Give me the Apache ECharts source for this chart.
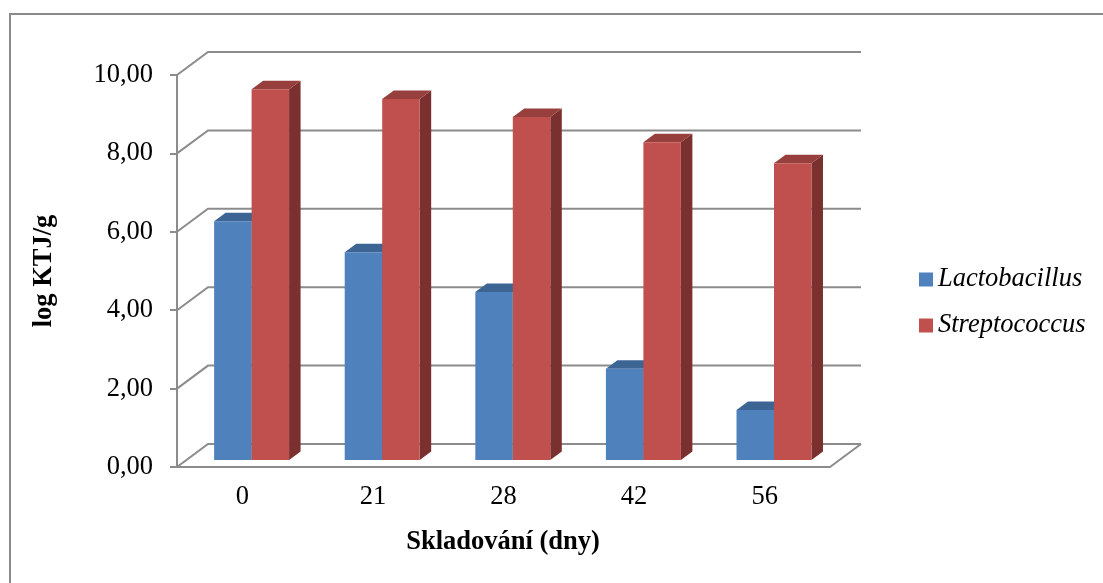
<!DOCTYPE html>
<html>
<head>
<meta charset="utf-8">
<script src="https://cdn.jsdelivr.net/npm/echarts@6/dist/echarts.min.js"></script>
<style>
  html, body { margin: 0; padding: 0; background: #ffffff; }
  #chart { width: 1103px; height: 583px; }
</style>
</head>
<body>
<div id="chart"></div>
<script>
// Storage time (days) and log CFU/g counts
const days = ['0', '21', '28', '42', '56'];
const lactobacillus = [6.09, 5.30, 4.29, 2.33, 1.28];
const streptococcus = [9.46, 9.21, 8.75, 8.11, 7.57];
const valueTicks = [0, 2, 4, 6, 8, 10];

// Oblique 3D projection settings (pixels)
const DEPTH = [31, -23];        // floor/wall depth offset
const FACE = 0.3;               // bar fronts sit this far into the depth
const BAR_DEPTH = [11.5, -8.5]; // thickness of each column
const BAR_FRAC = 0.287;         // column width as a share of the category band

const FONT = 'Liberation Serif';
const FONT_SIZE = 26.5;
const GRID_COLOR = '#8c8c8c';

const palette = {
  lacto: { front: '#4f81bd', top: '#3c6594', side: '#2f5078' },
  strep: { front: '#c0504d', top: '#973f3d', side: '#7a302e' }
};

const fmt = v => v.toFixed(2).replace('.', ',');

// Back wall gridlines plus their diagonal on the side wall
function gridRenderer(params, api) {
  const v = api.value(1);
  const bw = api.size([1, 0])[0];
  const first = api.coord([0, v]);
  const last = api.coord([days.length - 1, v]);
  const xl = first[0] - bw / 2;
  const xr = last[0] + bw / 2;
  const y = first[1];
  const children = [{
    type: 'polyline',
    shape: { points: [[xl, y], [xl + DEPTH[0], y + DEPTH[1]], [xr + DEPTH[0], y + DEPTH[1]]] },
    style: { stroke: GRID_COLOR, lineWidth: 2, fill: null }
  }];
  if (v === 0) {
    children.push({
      type: 'line',
      shape: { x1: xr, y1: y, x2: xr + DEPTH[0], y2: y + DEPTH[1] },
      style: { stroke: GRID_COLOR, lineWidth: 2 }
    });
  }
  return { type: 'group', children };
}

// 3D column: front face, top and right side
function barRenderer(side, colors) {
  return function (params, api) {
    const i = api.value(0);
    const v = api.value(1);
    const base = api.coord([i, 0]);
    const top = api.coord([i, v]);
    const bw = api.size([1, 0])[0];
    const w = bw * BAR_FRAC;
    const ox = DEPTH[0] * FACE, oy = DEPTH[1] * FACE;
    const x0 = base[0] + ox + (side === 0 ? -w : 0);
    const x1 = x0 + w;
    const yb = base[1] + oy;
    const yt = top[1] + oy;
    const bx = BAR_DEPTH[0], by = BAR_DEPTH[1];
    return {
      type: 'group',
      children: [
        { type: 'polygon', shape: { points: [[x1, yt], [x1, yb], [x1 + bx, yb + by], [x1 + bx, yt + by]] }, style: { fill: colors.side } },
        { type: 'polygon', shape: { points: [[x0, yt], [x1, yt], [x1 + bx, yt + by], [x0 + bx, yt + by]] }, style: { fill: colors.top } },
        { type: 'rect', shape: { x: x0, y: yt, width: w, height: yb - yt }, style: { fill: colors.front } }
      ]
    };
  };
}

const chart = echarts.init(document.getElementById('chart'), null, { renderer: 'canvas' });

chart.setOption({
  animation: false,
  backgroundColor: '#ffffff',
  textStyle: { fontFamily: FONT },
  grid: { left: 177, top: 75, width: 653, height: 392, containLabel: false },
  legend: {
    orient: 'vertical',
    left: 919,
    top: 266,
    padding: 0,
    itemWidth: 14,
    itemHeight: 14,
    itemGap: 19,
    icon: 'rect',
    textStyle: { fontFamily: FONT, fontSize: FONT_SIZE, fontStyle: 'italic', color: '#000000' },
    data: ['Lactobacillus', 'Streptococcus']
  },
  xAxis: {
    type: 'category',
    data: days,
    axisLine: { show: true, lineStyle: { color: GRID_COLOR, width: 2 } },
    axisTick: { show: false },
    axisLabel: { fontFamily: FONT, fontSize: FONT_SIZE, color: '#000000', margin: 17 },
    splitLine: { show: false }
  },
  yAxis: {
    type: 'value',
    min: valueTicks[0],
    max: valueTicks[valueTicks.length - 1],
    interval: valueTicks[1] - valueTicks[0],
    axisLine: { show: true, lineStyle: { color: GRID_COLOR, width: 2 } },
    axisTick: { show: true, length: 7, lineStyle: { color: GRID_COLOR, width: 2 } },
    axisLabel: { fontFamily: FONT, fontSize: FONT_SIZE, color: '#000000', margin: 24, formatter: fmt },
    splitLine: { show: false }
  },
  graphic: [
    {
      type: 'rect', silent: true, z: -1,
      shape: { x: 10, y: 14, width: 1200, height: 700 },
      style: { fill: null, stroke: '#8a8a8a', lineWidth: 2 }
    },
    {
      type: 'text', x: 44, y: 271, rotation: Math.PI / 2,
      style: { text: 'log KTJ/g', font: 'bold 26.5px "Liberation Serif"', fill: '#000000', align: 'center', verticalAlign: 'middle' }
    },
    {
      type: 'text', x: 503, y: 542,
      style: { text: 'Skladování (dny)', font: 'bold 26.5px "Liberation Serif"', fill: '#000000', align: 'center', verticalAlign: 'middle' }
    }
  ],
  series: [
    {
      type: 'custom',
      name: 'walls',
      z: 1,
      silent: true,
      renderItem: gridRenderer,
      encode: { x: 0, y: 1 },
      data: valueTicks.map(v => [0, v])
    },
    {
      type: 'custom',
      name: 'Lactobacillus',
      z: 3,
      itemStyle: { color: palette.lacto.front },
      renderItem: barRenderer(0, palette.lacto),
      encode: { x: 0, y: 1 },
      data: lactobacillus.map((v, i) => [i, v])
    },
    {
      type: 'custom',
      name: 'Streptococcus',
      z: 4,
      itemStyle: { color: palette.strep.front },
      renderItem: barRenderer(1, palette.strep),
      encode: { x: 0, y: 1 },
      data: streptococcus.map((v, i) => [i, v])
    }
  ]
});
</script>
</body>
</html>
